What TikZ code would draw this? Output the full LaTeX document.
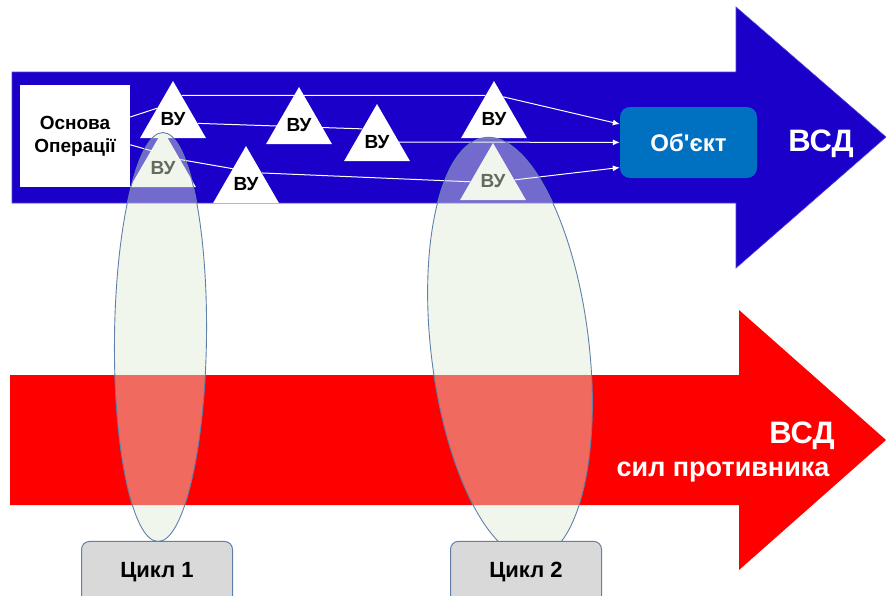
\documentclass[tikz,border=0pt]{standalone}
\usepackage{fontspec}
\setmainfont{Liberation Sans}
\usetikzlibrary{shapes.geometric,arrows.meta}

\definecolor{blu}{RGB}{26,0,200}
\definecolor{rosso}{RGB}{255,0,0}
\definecolor{oggetto}{RGB}{0,112,192}
\definecolor{verdino}{RGB}{225,236,214}
\definecolor{bordo}{RGB}{96,128,170}
\definecolor{grigio}{RGB}{217,217,217}

\pgfdeclarelayer{frecce}
\pgfdeclarelayer{linee}
\pgfsetlayers{frecce,linee,main}

\begin{document}
\begin{tikzpicture}[x=1pt,y=-1pt,
    >={Latex[length=7pt,width=6pt]},
    vu/.style={regular polygon, regular polygon sides=3, fill=white,
      inner sep=0pt, minimum size=76pt, text depth=0pt,
      font=\fontsize{19}{23}\selectfont\bfseries},
    link/.style={white, line width=1pt},
    ciclo/.style={ellipse, draw=bordo, line width=0.9pt, fill=verdino,
      fill opacity=0.45, draw opacity=1, inner sep=0pt},
    etichetta/.style={rounded corners=8pt, draw=bordo, line width=1pt,
      fill=grigio, minimum width=151pt, minimum height=62pt, text depth=6pt,
      font=\fontsize{22}{26}\selectfont\bfseries},
    titolo/.style={text=white, anchor=base, font=\fontsize{31}{36}\selectfont\bfseries}]

    \useasboundingbox (0,0) rectangle (886,595);

    % frecce
    \begin{pgfonlayer}{frecce}
      \fill[blu, draw=blu!75!white, line width=0.6pt]
        (12,72) -- (736,72) -- (736,7) -- (886,137) -- (736,268)
        -- (736,203) -- (12,203) -- cycle;
      \fill[rosso]
        (10,375) -- (739,375) -- (739,310) -- (886,440) -- (739,570)
        -- (739,505) -- (10,505) -- cycle;
    \end{pgfonlayer}

    % base e oggetto
    \node[fill=white, minimum width=110pt, minimum height=102pt, align=center,
      font=\fontsize{19}{23}\selectfont\bfseries] (osn) at (75,136) {Основа\\Операції};
    \node[fill=oggetto, rounded corners=10pt, minimum width=137pt, minimum height=71pt,
      text=white, font=\fontsize{24}{28}\selectfont\bfseries] (obj) at (688.5,142.5) {Об\textquotesingle єкт};

    % triangoli
    \node[vu] (t1) at (173,119) {ВУ};
    \node[vu] (t2) at (163,168) {ВУ};
    \node[vu] (t3) at (246,184) {ВУ};
    \node[vu] (t4) at (299,125) {ВУ};
    \node[vu] (t5) at (377,142) {ВУ};
    \node[vu] (t6) at (494,119) {ВУ};
    \node[vu] (t7) at (493,181) {ВУ};

    % collegamenti
    \begin{pgfonlayer}{linee}
      \draw[link] (osn.19) -- (t1.146);
      \draw[link] (osn.-9) -- (t2.125);
      \draw[link] (t1.70) -- (t6.110);
      \draw[link] (t1.-10) -- (t5.138);
      \draw[link] (t2.26) -- (t3.131);
      \draw[link] (t3.35) -- (t7.182);
      \draw[link,->] (t6.67) -- (obj.165);
      \draw[link,->] (t5) -- (obj);
      \draw[link,->] (t7.3) -- (obj.200);
    \end{pgfonlayer}

    % scritte
    \node[titolo] (vsd) at (821,151) {ВСД};
    \node[titolo] (vsdr) at (802,443) {ВСД};
    \node[titolo, font=\fontsize{27}{32}\selectfont\bfseries] (prot) at (723,476) {сил противника};

    % cicli
    \node[ciclo, minimum width=92pt, minimum height=409pt, rotate=-0.7] (c1) at (160.5,337) {};
    \node[ciclo, minimum width=158pt, minimum height=424pt, rotate=6.8] (c2) at (510,348) {};
    \node[etichetta, anchor=base] (e1) at (157,577) {Цикл 1};
    \node[etichetta, anchor=base] (e2) at (526,577) {Цикл 2};
\end{tikzpicture}
\end{document}
